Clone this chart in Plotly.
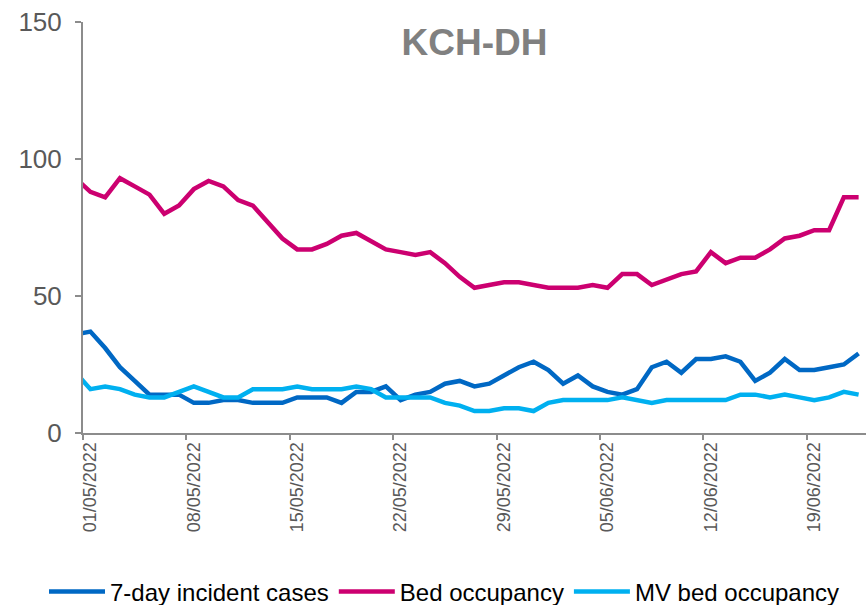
import plotly.graph_objects as go
import pandas as pd

# Daily categories; the first (30/04) lies just outside the visible axis range
dates = pd.date_range("2022-04-30", "2022-06-22", freq="D").strftime("%d/%m/%Y").tolist()

incident_cases = [36,
    37, 31, 24, 19, 14, 14, 14, 11, 11, 12, 12, 11, 11,
    11, 13, 13, 13, 11, 15, 15, 17, 12, 14, 15, 18, 19,
    17, 18, 21, 24, 26, 23, 18, 21, 17, 15, 14, 16, 24,
    26, 22, 27, 27, 28, 26, 19, 22, 27, 23, 23, 24, 25, 29]

bed_occupancy = [93,
    88, 86, 93, 90, 87, 80, 83, 89, 92, 90, 85, 83, 77,
    71, 67, 67, 69, 72, 73, 70, 67, 66, 65, 66, 62, 57,
    53, 54, 55, 55, 54, 53, 53, 53, 54, 53, 58, 58, 54,
    56, 58, 59, 66, 62, 64, 64, 67, 71, 72, 74, 74, 86, 86]

mv_bed_occupancy = [22,
    16, 17, 16, 14, 13, 13, 15, 17, 15, 13, 13, 16, 16,
    16, 17, 16, 16, 16, 17, 16, 13, 13, 13, 13, 11, 10,
    8, 8, 9, 9, 8, 11, 12, 12, 12, 12, 13, 12, 11,
    12, 12, 12, 12, 12, 14, 14, 13, 14, 13, 12, 13, 15, 14]

series_names = ["7-day incident cases", "Bed occupancy", "MV bed occupancy"]
series_colors = ["#0068C4", "#CC0070", "#00B0F0"]
y_ticks = [0, 50, 100, 150]

FONT = "Liberation Sans, Arial, sans-serif"
AXIS_COLOR = "#8C8C8C"
LABEL_COLOR = "#595959"

W, H = 868, 605
ML, MR, MT, MB = 83, 2, 22, 172
plot_w = W - ML - MR
plot_h = H - MT - MB

fig = go.Figure()
for name, vals, col in zip(series_names, [incident_cases, bed_occupancy, mv_bed_occupancy], series_colors):
    fig.add_trace(go.Scatter(
        x=dates, y=vals, name=name, mode="lines",
        line=dict(color=col, width=4.5),
        hoverinfo="x+y+name",
    ))

fig.update_layout(
    width=W, height=H,
    margin=dict(l=ML, r=MR, t=MT, b=MB, autoexpand=False),
    paper_bgcolor="white", plot_bgcolor="white",
    font=dict(family=FONT, color=LABEL_COLOR),
    title=dict(
        text="<b>KCH-DH</b>", x=0.5, xref="paper", xanchor="center",
        y=1 - 42 / H, yref="container", yanchor="middle",
        font=dict(family=FONT, size=37, color="#808080"),
    ),
    showlegend=True,
    legend=dict(
        orientation="h", xref="paper", yref="paper",
        x=(44 - ML) / plot_w, xanchor="left",
        y=((H - MB) - 592) / plot_h, yanchor="middle",
        font=dict(family=FONT, size=24, color="#000000"),
        itemwidth=56, bgcolor="rgba(0,0,0,0)",
    ),
)

fig.update_xaxes(
    type="category",
    range=[0.5, len(dates) - 0.5],
    tickmode="linear", tick0=1, dtick=7,
    tickson="boundaries",
    ticks="outside", ticklen=5, tickcolor=AXIS_COLOR, tickwidth=1.5,
    tickangle=-90,
    tickfont=dict(family=FONT, size=18, color=LABEL_COLOR),
    showline=True, linecolor=AXIS_COLOR, linewidth=2,
    showgrid=False, zeroline=False, fixedrange=True,
)

fig.update_yaxes(
    range=[0, 150],
    tickmode="array", tickvals=y_ticks,
    ticks="outside", ticklen=6, tickcolor=AXIS_COLOR, tickwidth=1.5,
    ticklabelstandoff=8,
    tickfont=dict(family=FONT, size=26, color=LABEL_COLOR),
    showline=True, linecolor=AXIS_COLOR, linewidth=2,
    showgrid=False, zeroline=False, fixedrange=True,
)

fig.write_html(
    "out.html",
    config={"displayModeBar": False},
    post_script="document.body.style.margin='0px';",
)
